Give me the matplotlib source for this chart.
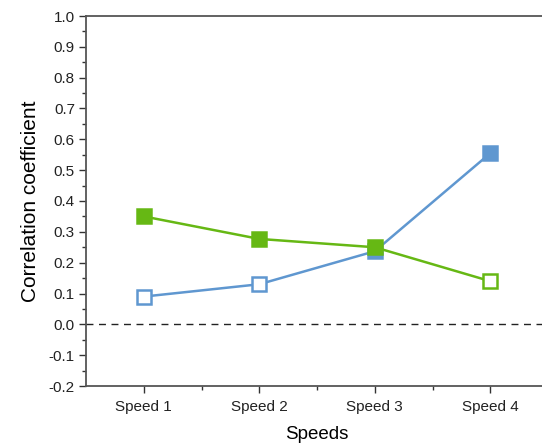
import matplotlib
matplotlib.use("Agg")
import matplotlib.pyplot as plt
from matplotlib.ticker import MultipleLocator, FixedLocator

plt.rcParams['font.family'] = ['Liberation Sans', 'DejaVu Sans']

categories = ["Speed 1", "Speed 2", "Speed 3", "Speed 4"]
blue_vals = [0.09, 0.13, 0.237, 0.555]
green_vals = [0.35, 0.277, 0.25, 0.14]
blue_filled = [False, False, True, True]
green_filled = [True, True, True, False]

blue = '#5F97D0'
green = '#66B814'

fig = plt.figure(figsize=(5.42, 4.44), dpi=100)
ax = fig.add_axes([86/542, 58/444, 462/542, 370/444])

x = list(range(1, len(categories) + 1))
ax.axhline(0, color='#222222', lw=1.0, ls=(0, (5, 4)), zorder=1)

ax.plot(x, blue_vals, color=blue, lw=1.8, zorder=2)
for xi, v, f in zip(x, blue_vals, blue_filled):
    ax.plot([xi], [v], marker='s', ms=10, mew=1.8, mec=blue,
            mfc=blue if f else 'white', zorder=3)
ax.plot(x, green_vals, color=green, lw=1.8, zorder=4)
for xi, v, f in zip(x, green_vals, green_filled):
    ax.plot([xi], [v], marker='s', ms=10, mew=1.8, mec=green,
            mfc=green if f else 'white', zorder=5)

ax.set_xlim(0.5, 4.5)
ax.set_ylim(-0.2, 1.0)
ax.set_xticks(x)
ax.set_xticklabels(categories)
ax.xaxis.set_minor_locator(FixedLocator([1.5, 2.5, 3.5]))
ax.yaxis.set_major_locator(MultipleLocator(0.1))
ax.yaxis.set_minor_locator(MultipleLocator(0.05))
ax.set_yticklabels([f"{t:.1f}" for t in ax.get_yticks()])

for s in ['top', 'bottom', 'left', 'right']:
    ax.spines[s].set_color('#555555')
    ax.spines[s].set_linewidth(1.3)
ax.spines['right'].set_visible(False)

ax.tick_params(axis='both', which='major', direction='out', length=5, width=1.0,
               color='#333333', labelsize=11, labelcolor='#222222')
ax.tick_params(axis='both', which='minor', direction='out', length=3, width=1.0,
               color='#333333')
ax.tick_params(axis='x', which='major', pad=5)
ax.tick_params(axis='y', which='major', pad=3)

ax.set_xlabel("Speeds", fontsize=13.5, labelpad=9)
ax.set_ylabel("Correlation coefficient", fontsize=15, labelpad=6)

fig.savefig("out.png", dpi=100)
